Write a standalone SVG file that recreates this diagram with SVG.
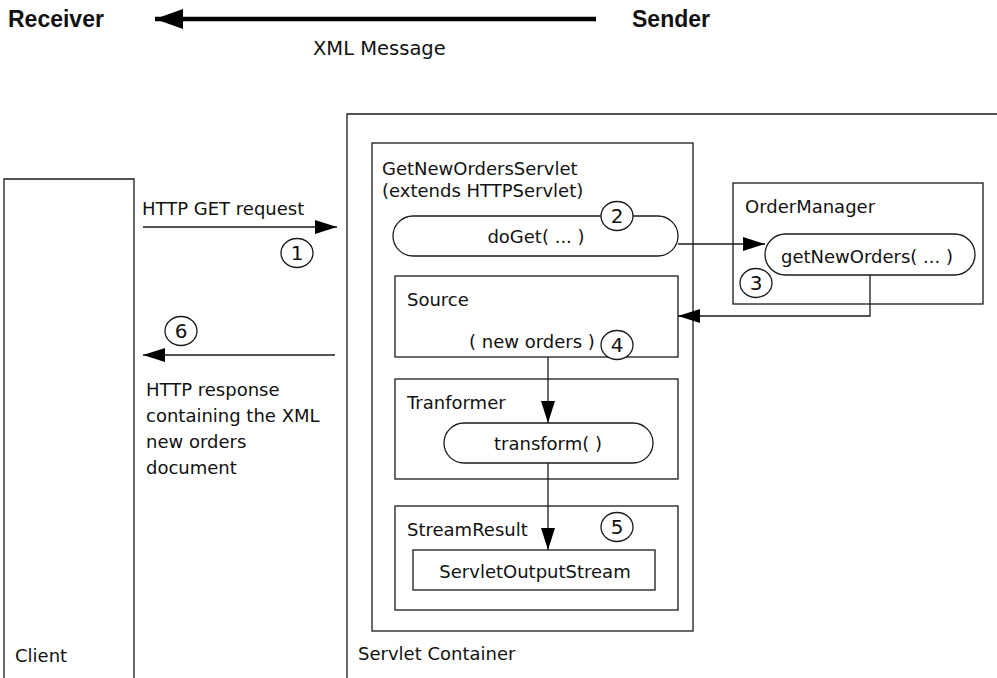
<svg xmlns="http://www.w3.org/2000/svg" width="997" height="678" viewBox="0 0 997 678">
<defs>
<style>
text{font-family:"DejaVu Sans","Liberation Sans",sans-serif;font-size:18px;fill:#111}
.b{font-family:"Liberation Sans",Arial,sans-serif;font-weight:bold;font-size:23px}
.m{text-anchor:middle}
.d{font-size:20px}
.bx{fill:#fff;stroke:#1a1a1a;stroke-width:1.3}
.ln{fill:none;stroke:#1a1a1a;stroke-width:1.3}
.c{fill:#fff;stroke:#1a1a1a;stroke-width:1.3}
</style>
<marker id="ah" markerUnits="userSpaceOnUse" markerWidth="22" markerHeight="14" refX="22" refY="7" orient="auto">
<path d="M0,0 L22,7 L0,14 z" fill="#000"/>
</marker>
<marker id="big" markerUnits="userSpaceOnUse" markerWidth="28" markerHeight="20" refX="28" refY="10" orient="auto">
<path d="M0,0 L28,10 L0,20 z" fill="#000"/>
</marker>
</defs>
<rect width="997" height="678" fill="#fff"/>

<g id="legend">
<text class="b" x="8" y="27">Receiver</text>
<text class="b" x="632" y="27">Sender</text>
<line x1="596" y1="19" x2="155" y2="19" stroke="#000" stroke-width="4.5" marker-end="url(#big)"/>
<text x="313" y="55" style="font-size:19.5px">XML Message</text>
</g>

<g id="client">
<path class="ln" d="M4,678 V179 H134 V678"/>
<text x="15" y="662">Client</text>
</g>

<g id="servlet-container">
<path class="ln" d="M997,114 H347 V678"/>
<text x="358" y="660">Servlet Container</text>
</g>

<g id="getnewordersservlet">
<rect class="bx" x="372" y="143" width="321" height="488"/>
<text x="382" y="175">GetNewOrdersServlet</text>
<text x="382" y="197">(extends HTTPServlet)</text>
</g>

<g id="doget">
<rect class="bx" x="393" y="216" width="285" height="40" rx="20"/>
<text class="m" x="536" y="243">doGet( ... )</text>
</g>

<g id="source">
<rect class="bx" x="395" y="276" width="283" height="81"/>
<text x="407" y="306">Source</text>
<text class="m" x="532" y="348">( new orders )</text>
</g>

<g id="tranformer">
<rect class="bx" x="395" y="379" width="283" height="100"/>
<text x="407" y="409">Tranformer</text>
</g>

<g id="transform">
<rect class="bx" x="444" y="423" width="209" height="40" rx="20"/>
<text class="m" x="548" y="450">transform( )</text>
</g>

<g id="streamresult">
<rect class="bx" x="395" y="506" width="283" height="104"/>
<text x="407" y="536">StreamResult</text>
</g>

<g id="servletoutputstream">
<rect class="bx" x="413" y="550" width="242" height="40"/>
<text class="m" x="535" y="578">ServletOutputStream</text>
</g>

<g id="ordermanager">
<rect class="bx" x="733" y="183" width="250" height="121"/>
<text x="745" y="213">OrderManager</text>
</g>

<g id="getneworders">
<rect class="bx" x="765" y="234" width="210" height="41" rx="20.5"/>
<text class="m" x="867" y="263">getNewOrders( ... )</text>
</g>

<g id="connectors">
<line class="ln" x1="143" y1="227" x2="337" y2="227" marker-end="url(#ah)"/>
<line class="ln" x1="335" y1="355" x2="143" y2="355" marker-end="url(#ah)"/>
<line class="ln" x1="678" y1="244" x2="765" y2="244" marker-end="url(#ah)"/>
<polyline class="ln" points="870,275 870,316 678,316" marker-end="url(#ah)"/>
<line class="ln" x1="548" y1="357" x2="548" y2="423" marker-end="url(#ah)"/>
<line class="ln" x1="548" y1="463" x2="548" y2="550" marker-end="url(#ah)"/>
</g>

<g id="labels">
<text x="142" y="215">HTTP GET request</text>
<text x="146" y="396">HTTP response</text>
<text x="146" y="422">containing the XML</text>
<text x="146" y="448">new orders</text>
<text x="146" y="474">document</text>
</g>

<g id="step1"><ellipse class="c" cx="297" cy="253" rx="16" ry="14.5"/><text class="m d" x="297" y="260">1</text></g>
<g id="step2"><ellipse class="c" cx="617" cy="216" rx="16" ry="14.5"/><text class="m d" x="617" y="223">2</text></g>
<g id="step3"><ellipse class="c" cx="756" cy="283" rx="16" ry="14.5"/><text class="m d" x="756" y="290">3</text></g>
<g id="step4"><ellipse class="c" cx="617" cy="345" rx="16" ry="14.5"/><text class="m d" x="617" y="352">4</text></g>
<g id="step5"><ellipse class="c" cx="617" cy="527" rx="16" ry="14.5"/><text class="m d" x="617" y="534">5</text></g>
<g id="step6"><ellipse class="c" cx="181" cy="331" rx="16" ry="14.5"/><text class="m d" x="181" y="338">6</text></g>
</svg>
